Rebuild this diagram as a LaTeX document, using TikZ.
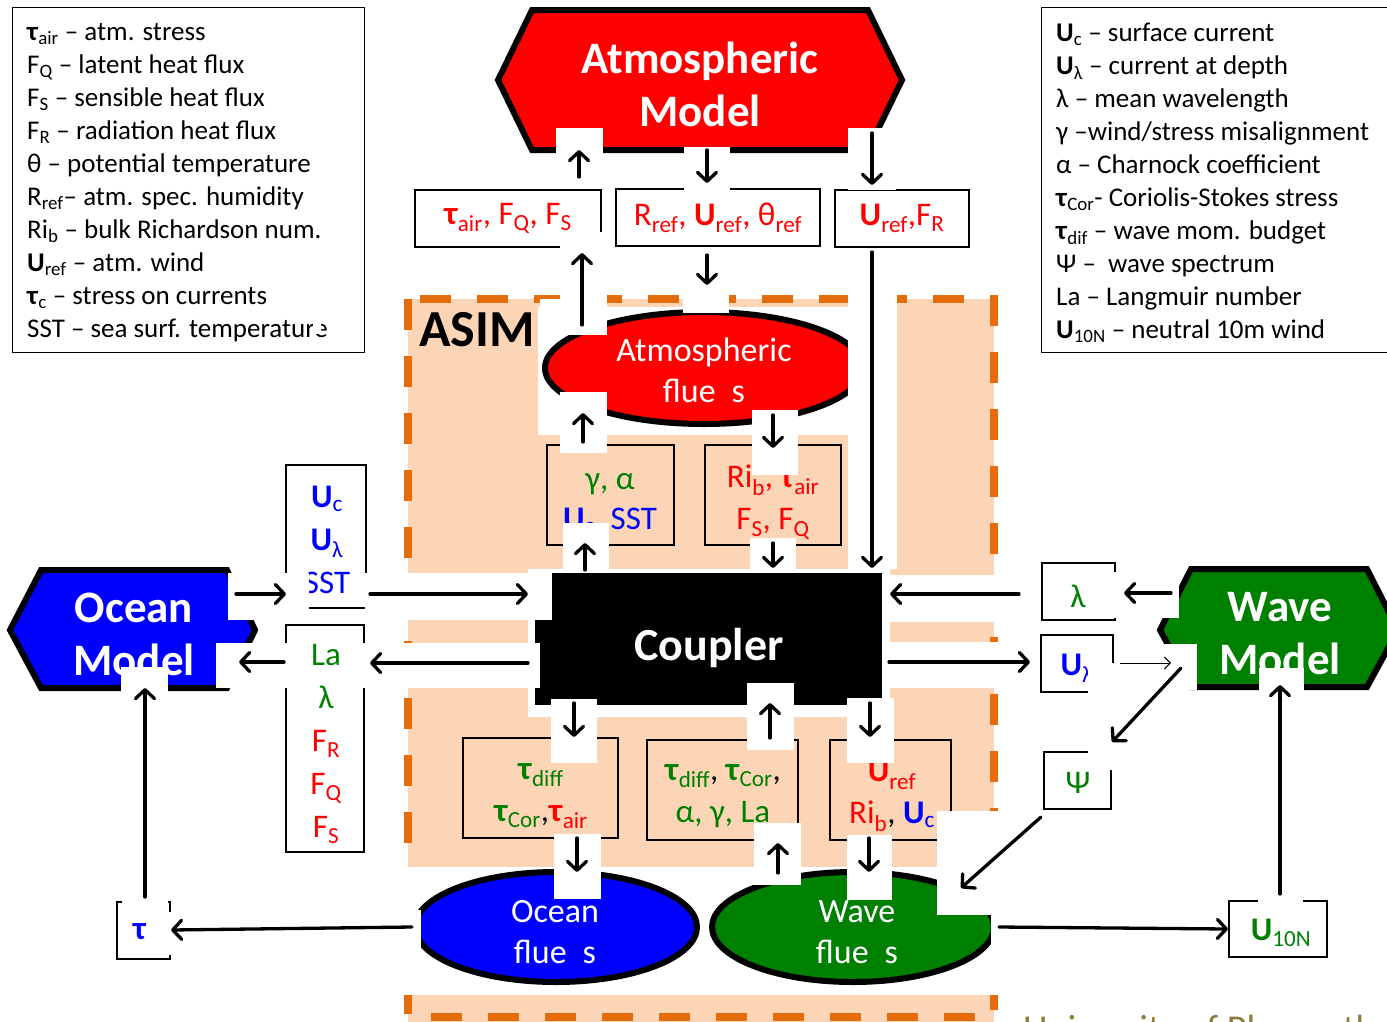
\documentclass[tikz,border=0pt]{standalone}
\usepackage{fontspec}
\setmainfont{Carlito}
\usetikzlibrary{arrows.meta,shapes.geometric}
\definecolor{peach}{HTML}{FBD5B5}
\definecolor{dorange}{HTML}{E46C0A}
\definecolor{mgreen}{HTML}{008000}
\definecolor{mred}{HTML}{FF0000}
\definecolor{mblue}{HTML}{0000FF}
\definecolor{uniolive}{HTML}{8C7D3C}
\newcommand{\sbs}[1]{\textsubscript{#1}}
\newcommand{\fsz}[2]{\fontsize{#1}{#2}\selectfont}
\begin{document}
\begin{tikzpicture}[x=1pt,y=-1pt,
  wp/.style={fill=white,draw=none},
  arr/.style={line width=3.3pt,line cap=round,-{Straight Barb[length=9pt,width=19pt,round]}},
  thinarr/.style={line width=1pt,-{Straight Barb[length=6pt,width=12pt]}},
  tbox/.style={draw=black,line width=1.4pt,inner sep=0pt},
  btxt/.style={font=\fsz{33}{42},align=center,inner sep=0pt},
  hexline/.style={draw=black,line width=6pt,line join=miter},
  hextxt/.style={text=white,font=\bfseries\fsz{45}{53},align=center,inner sep=0pt},
  flx/.style={ellipse,draw=black,line width=6pt,inner sep=0pt},
  flxtxt/.style={text=white,font=\fsz{34}{41},align=center,inner sep=0pt},
  legtxt/.style={font=\fsz{27}{33},align=left,inner sep=0pt,anchor=north west}
]
\useasboundingbox[fill=white] (0,0) rectangle (1387,1021);

% ---------- ASIM region background ----------
\fill[peach] (408,299) rectangle (994,1030);
\draw[dorange,line width=8pt,dash pattern=on 31pt off 26pt] (408,299) rectangle (994,1017);
% white background areas
\fill[white] (538,307) rectangle (848,435);
\fill[white] (528,569) rectangle (890,717);
\fill[white] (400,867) rectangle (1000,995);
\fill[white] (400,573) rectangle (540,620);
\fill[white] (400,643) rectangle (540,688);
\fill[white] (880,575) rectangle (1000,622);
\fill[white] (880,642) rectangle (1000,688);

% ---------- legends ----------
\node[tbox,minimum width=352,minimum height=345,anchor=north west] (legLbox) at (12,7) {};
\node[legtxt] (legL) at (27,23) {\textbf{τ}\sbs{air} – atm. stress\\
F\sbs{Q} – latent heat flux\\
F\sbs{S} – sensible heat flux\\
F\sbs{R} – radiation heat flux\\
θ – potential temperature\\
R\sbs{ref}– atm. spec. humidity\\
Ri\sbs{b} – bulk Richardson num.\\
\textbf{U}\sbs{ref} – atm. wind\\
\textbf{τ}\sbs{c} – stress on currents\\
SST – sea surf. temperature};
\node[tbox,minimum width=360,minimum height=345,anchor=north west] (legRbox) at (1041,7) {};
\node[legtxt] (legR) at (1056,23) {\textbf{U}\sbs{c} – surface current\\
\textbf{U}\sbs{λ} – current at depth\\
λ – mean wavelength\\
γ –wind/stress misalignment\\
α – Charnock coefficient\\
\textbf{τ}\sbs{Cor}- Coriolis-Stokes stress\\
\textbf{τ}\sbs{dif} – wave mom. budget\\
Ψ –\ \ wave spectrum\\
La – Langmuir number\\
\textbf{U}\sbs{10N} – neutral 10m wind};

% ---------- Atmospheric model ----------
\draw[hexline,fill=mred] (498,80) -- (532,10) -- (868,10) -- (902,80) -- (868,150) -- (532,150) -- cycle;
\node[hextxt] (atm) at (700,84) {Atmospheric\\Model};

\node[tbox,fill=white,minimum width=186,minimum height=57,btxt,text=mred] (bx1) at (508,218.5) {\textbf{τ}\sbs{air}, F\sbs{Q}, F\sbs{S}};
\node[tbox,fill=white,minimum width=204,minimum height=57,btxt,text=mred] (bx2) at (718,217.5) {R\sbs{ref}, \textbf{U}\sbs{ref}, θ\sbs{ref}};
\node[tbox,fill=white,minimum width=134,minimum height=57,btxt,text=mred] (bx3) at (902,218.5) {\textbf{U}\sbs{ref},F\sbs{R}};

% ---------- ASIM inner ----------
\node[anchor=west,font=\bfseries\fsz{52}{60},inner sep=0pt] (asim) at (419,330) {ASIM};
\node[flx,fill=mred,minimum width=318,minimum height=112] (atmflux) at (704,368) {};
\node[flxtxt] (atmfluxt) at (704,370) {Atmospheric\\flue\hspace{16pt}s};

\node[tbox,minimum width=127,minimum height=100] (gabox) at (610.5,495) {};
\node[btxt,font=\fsz{33}{40}] (gatxt) at (610,504) {\textcolor{mgreen}{γ, α}\\\textcolor{mblue}{\textbf{U}\sbs{c}, SST}};
\node[tbox,minimum width=136,minimum height=100] (ribox) at (773,495) {};
\node[btxt,font=\fsz{33}{42},text=mred] (ritxt) at (773,502) {Ri\sbs{b}, \textbf{τ}\sbs{air}\\F\sbs{S}, F\sbs{Q}};

\node[fill=black,minimum width=347,minimum height=132,inner sep=0pt] (coupler) at (708.5,639) {};
\node[text=white,font=\bfseries\fsz{46}{50},inner sep=0pt] (couplert) at (709,648) {Coupler};

\node[tbox,minimum width=155,minimum height=100] (b1) at (540.5,788) {};
\node[btxt] (b1t) at (541,796) {\textcolor{mgreen}{\textbf{τ}\sbs{diff}}\\\textcolor{mgreen}{\textbf{τ}\sbs{Cor}},\textcolor{mred}{\textbf{τ}\sbs{air}}};
\node[tbox,minimum width=151,minimum height=100] (b2) at (722.5,790) {};
\node[btxt] (b2t) at (723,796) {\textcolor{mgreen}{\textbf{τ}\sbs{diff}}, \textcolor{mgreen}{\textbf{τ}\sbs{Cor}},\\\textcolor{mgreen}{α, γ, La}};
\node[tbox,minimum width=121,minimum height=100] (b3) at (890.5,790) {};
\node[btxt] (b3t) at (892,796) {\textcolor{mred}{\textbf{U}\sbs{ref}}\\\textcolor{mred}{Ri\sbs{b}}, \textcolor{mblue}{\textbf{U}\sbs{c}}};

\node[flx,fill=mblue,minimum width=282,minimum height=110] (oflux) at (556,927) {};
\node[flxtxt] (ofluxt) at (555,932) {Ocean\\flue\hspace{16pt}s};
\node[flx,fill=mgreen,minimum width=282,minimum height=110] (wflux) at (853,927) {};
\node[flxtxt] (wfluxt) at (857,932) {Wave\\flue\hspace{16pt}s};

% ---------- Ocean side ----------
\draw[hexline,fill=mblue] (10,630) -- (41,570) -- (227,570) -- (255,630) -- (227,688) -- (41,688) -- cycle;
\node[hextxt] (ocean) at (134,634) {Ocean\\Model};
\node[tbox,minimum width=80,minimum height=143] (sstbox) at (326,536.5) {};
\node[btxt,font=\fsz{33}{43},text=mblue] (ssttxt) at (327,540) {\textbf{U}\sbs{c}\\\textbf{U}\sbs{λ}\\SST};
\node[tbox,minimum width=78,minimum height=227] (labox) at (325,738.5) {};
\node[btxt,font=\fsz{33}{43}] (latxt) at (326,744) {\textcolor{mgreen}{La}\\\textcolor{mgreen}{λ}\\\textcolor{mred}{F\sbs{R}}\\\textcolor{mred}{F\sbs{Q}}\\\textcolor{mred}{F\sbs{S}}};
\node[tbox,minimum width=53,minimum height=57] (taubox) at (143.5,930.5) {};
\node[btxt,text=mblue] (tautxt) at (145,933) {\textbf{τ}\sbs{c}};

% ---------- Wave side ----------
\draw[hexline,fill=mgreen] (1160,630) -- (1191,569) -- (1367,569) -- (1398,630) -- (1367,687) -- (1191,687) -- cycle;
\node[hextxt] (wave) at (1280,634) {Wave\\Model};
\node[tbox,minimum width=73,minimum height=57] (lambox) at (1078.5,591.5) {};
\node[btxt,text=mgreen] (lamtxt) at (1078,596) {λ};
\node[tbox,minimum width=72,minimum height=57] (ulbox) at (1077,663.5) {};
\node[btxt,text=mblue] (ultxt) at (1077,668) {\textbf{U}\sbs{λ}};
\node[tbox,minimum width=67,minimum height=57] (psibox) at (1077.5,780.5) {};
\node[btxt,text=mgreen] (psitxt) at (1078,783) {Ψ};
\node[tbox,minimum width=98,minimum height=56] (u10box) at (1278,929) {};
\node[btxt,text=mgreen] (u10txt) at (1281,933) {\textbf{U}\sbs{10N}};

\node[anchor=base west,text=uniolive,font=\fsz{38}{44},inner sep=0pt] (univ) at (1023,1041) {University of Plymouth};

% ---------- white cover patches ----------
\foreach \xa/\ya/\xb/\yb in {
  556/128/603/187, 684/147/730/190, 848/128/896/190,
  560/232/607/300, 540/299/607/335, 683/250/729/313,
  848/295/897/569, 560/392/607/453, 752/410/798/475,
  563/523/609/570, 750/538/796/570,
  520/573/552/620, 520/643/537/688,
  551/699/597/763, 747/683/794/750, 847/698/894/763,
  554/834/601/899, 754/823/801/885, 847/835/892/900,
  937/811/1000/915, 991/811/1005/965, 400/910/421/962,
  228/573/309/620, 365/573/540/618, 216/643/288/688, 362/643/540/688, 121/667/168/700,
  1113/572/1179/618, 1115/644/1197/690, 1088/663/1115/695, 1259/668/1304/692,
  1088/745/1115/770,
  122/895/168/906, 146/912/166/946, 166/912/175/955,
  1258/895/1303/906, 313/318/321/334}
  {\fill[white] (\xa,\ya) rectangle (\xb,\yb);}

% ---------- connectors ----------
\foreach \n/\xa/\ya/\xb/\yb in {
  c1/579/177/579/150, c2/707/150/707/183, c3/872/133/872/185,
  c4/582/325/582/253, c5/707/255/707/285, c6/872/252/872/568,
  c7/583/442/583/413, c8/773/415/773/448, c9/585/570/585/543, c10/773/543/773/568,
  c11/236/594/286/594, c12/370/594/528/594, c13/528/663/370/663, c14/284/662/239/662,
  c15/1019/594/890/594, c16/1171/593/1124/593, c17/889/662/1030/662,
  c18/1181/668/1112/742, c19/1041/817/961/888,
  c20/574/703/574/737, c21/770/738/770/703, c22/870/703/870/737,
  c23/577/838/577/872, c24/778/873/778/843, c25/869/838/869/872,
  c26/412/927/171/930, c27/145/897/145/688, c28/999/927/1228/929, c29/1280/894/1280/685}
  {\coordinate (\n s) at (\xa,\ya); \coordinate (\n e) at (\xb,\yb); \draw[arr] (\n s) -- (\n e);}
\coordinate (ths) at (1120,663);
\coordinate (the) at (1171,663);
\draw[thinarr] (ths) -- (the);
\end{tikzpicture}
\end{document}
